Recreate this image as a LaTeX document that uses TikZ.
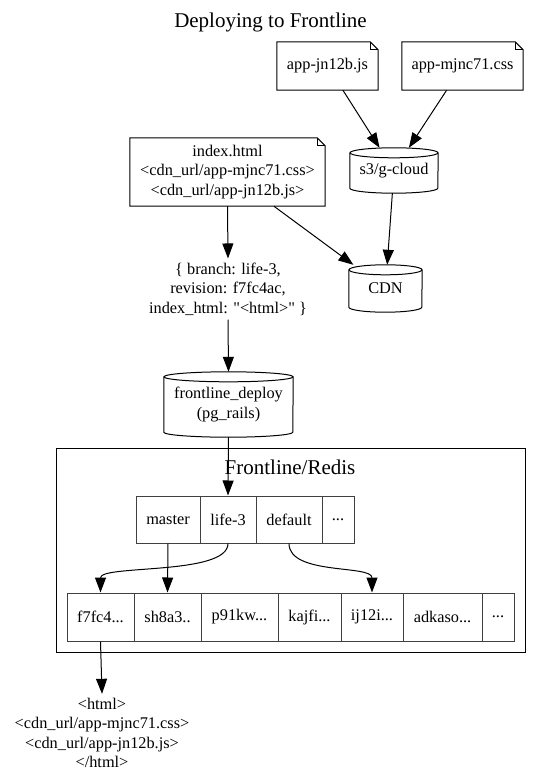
\documentclass[tikz,border=0pt]{standalone}
\usepackage{fontspec}
\setmainfont{Liberation Serif}[Ligatures=TeXOff]
\usetikzlibrary{arrows.meta,calc}
\newcommand\drawnote[1]{%
  \draw[line width=1pt] (#1.north west) -- ($(#1.north east)+(-8,0)$) -- ($(#1.north east)+(0,-8)$) -- (#1.south east) -- (#1.south west) -- cycle;
  \draw[line width=1pt] ($(#1.north east)+(-8,0)$) -- ($(#1.north east)+(-8,-8)$) -- ($(#1.north east)+(0,-8)$);}
\newcommand\drawcyl[2]{%
  \draw[line width=1pt] ($(#1.north west)+(0,-5)$) -- ($(#1.south west)+(0,5)$) arc[start angle=180,end angle=360,x radius=#2pt,y radius=5pt] -- ($(#1.north east)+(0,-5)$);
  \draw[line width=1pt] ($(#1.north)+(0,-5)$) ellipse[x radius=#2pt, y radius=5pt];}
\newcommand\dq{\symbol{34}}
\newcommand\dts{.{}.{}.}
\begin{document}
\begin{tikzpicture}[x=1pt,y=1pt,
  every node/.style={font=\fontsize{16.3}{19.5}\selectfont, inner sep=0pt, align=center},
  arr/.style={-{Triangle[length=15pt,width=11pt]}, line width=1pt},
  txt/.style={inner sep=4pt},
  cell/.style={draw=black!75, line width=1pt, minimum height=#1},
  ttl/.style={font=\fontsize{21}{24}\selectfont}
]
\useasboundingbox (0,0) rectangle (541,-783);

\node[ttl] (title) at (270.5,-22) {Deploying to Frontline};

\node[minimum width=101, minimum height=48] (js) at (327.5,-66) {app-jn12b.js};
\node[minimum width=121, minimum height=48] (css) at (462.5,-66) {app-mjnc71.css};
\drawnote{js}
\drawnote{css}

\node[minimum width=88, minimum height=45] (s3) at (394,-170.5) {s3/g-cloud};
\drawcyl{s3}{44}

\node[minimum width=195, minimum height=68] (index) at (227.5,-172) {index.html\\ <cdn\_url/app-mjnc71.css>\\ <cdn\_url/app-jn12b.js>};
\drawnote{index}

\node[minimum width=73, minimum height=47] (cdn) at (385.5,-288.5) {CDN};
\drawcyl{cdn}{36.5}

\node[txt] (rec) at (228,-289) {\{ branch: life-3,\\ revision: f7fc4ac,\\ index\_html: \dq<html>\dq{} \}};

\node[minimum width=129, minimum height=65] (fd) at (228.5,-404.5) {frontline\_deploy\\ (pg\_rails)};
\drawcyl{fd}{64.5}

\node[draw, line width=1pt, minimum width=469, minimum height=204] (cluster) at (290.5,-550) {};
\node[ttl] (clustertitle) at (290,-467) {Frontline/Redis};

\node[cell=47, minimum width=64] (master) at (168,-519.5) {master};
\node[cell=47, minimum width=56] (life3) at (228,-519.5) {life-3};
\node[cell=47, minimum width=66] (default) at (289,-519.5) {default};
\node[cell=47, minimum width=32] (dots1) at (338,-519.5) {\dts};

\node[cell=48, minimum width=67] (f7fc4) at (100.5,-617) {f7fc4\dts};
\node[cell=48, minimum width=67] (sh8a3) at (167.5,-617) {sh8a3.{}.};
\node[cell=48, minimum width=77] (p91kw) at (239.5,-617) {p91kw\dts};
\node[cell=48, minimum width=63] (kajfi) at (309.5,-617) {kajfi\dts};
\node[cell=48, minimum width=62] (ij12i) at (372,-617) {ij12i\dts};
\node[cell=48, minimum width=79] (adkaso) at (442.5,-617) {adkaso\dts};
\node[cell=48, minimum width=32] (dots2) at (498,-617) {\dts};

\node[txt] (html) at (102,-733) {<html>\\ <cdn\_url/app-mjnc71.css>\\ <cdn\_url/app-jn12b.js>\\ </html>};

\draw[arr] (js) -- (s3);
\draw[arr] (css) -- (s3);
\draw[arr] (index) -- (cdn);
\draw[arr] (s3) -- (cdn);
\draw[arr] (index.south) -- (rec.north);
\draw[arr] (rec.south) -- (fd.north);
\draw[arr] (fd.south) -- (life3.north);
\draw[arr] (master.south) -- (sh8a3.north);
\draw[arr] (life3.south) .. controls +(0,-32) and +(0,28) .. (f7fc4.north);
\draw[arr] (default.south) .. controls +(0,-32) and +(0,28) .. (ij12i.north);
\draw[arr] (f7fc4.south) -- (html.north);
\end{tikzpicture}
\end{document}
